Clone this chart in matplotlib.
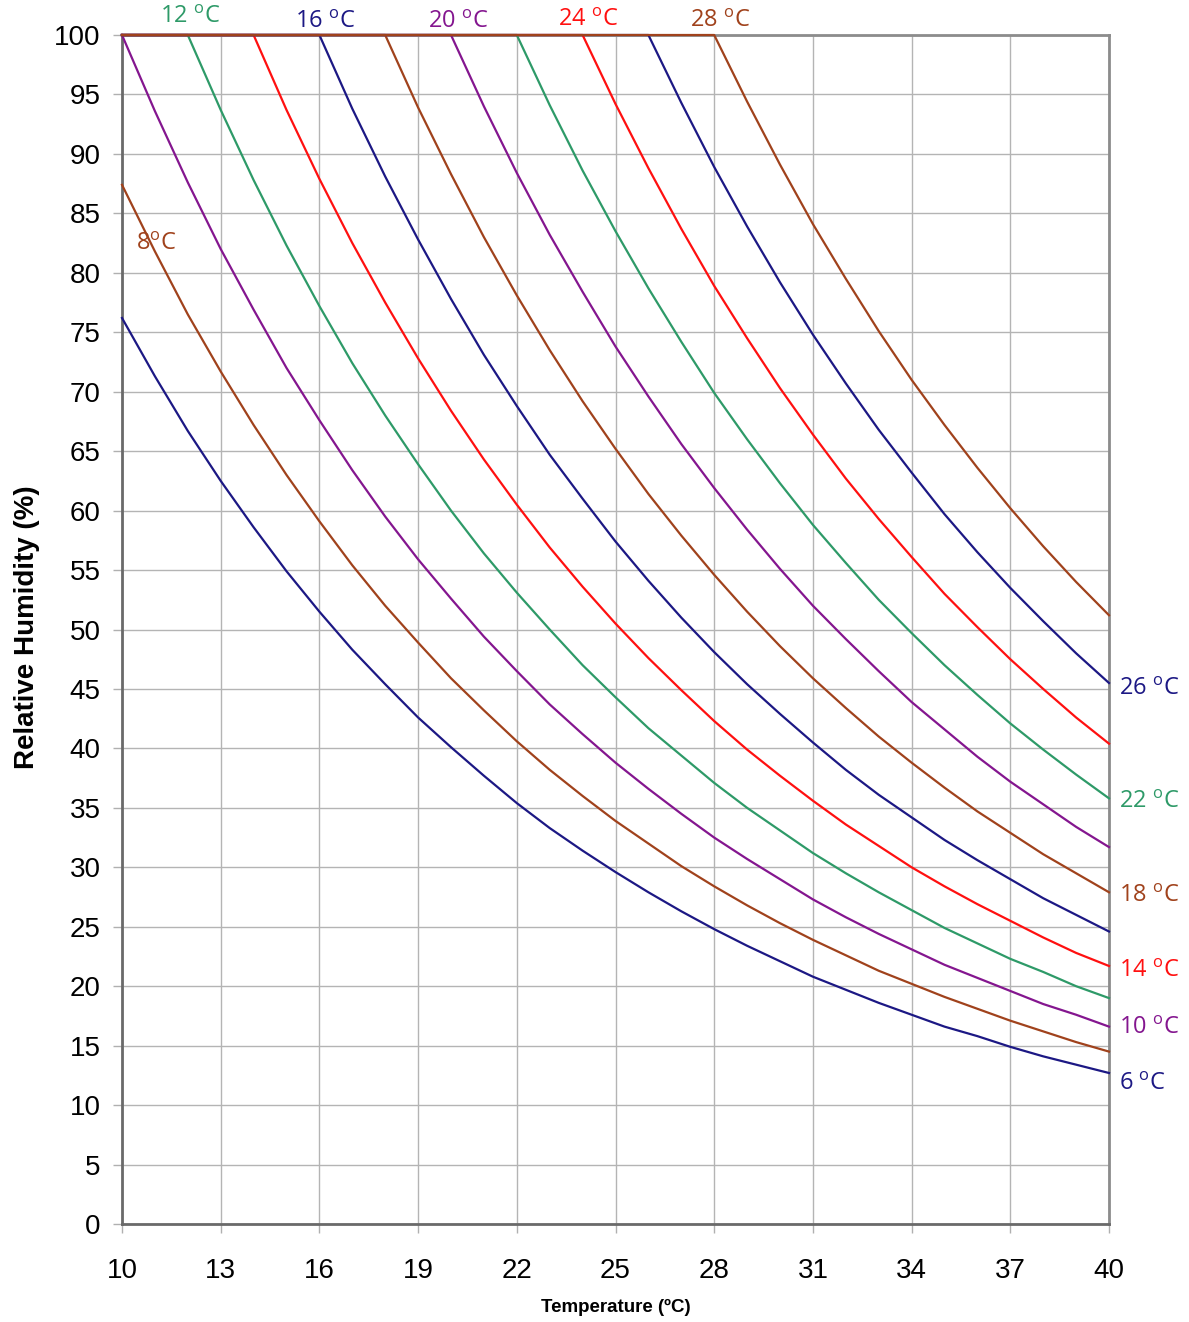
import matplotlib
matplotlib.use("Agg")
import matplotlib.pyplot as plt

# Temperature axis (deg C)
temps = [10, 11, 12, 13, 14, 15, 16, 17, 18, 19, 20, 21, 22, 23, 24, 25,
         26, 27, 28, 29, 30, 31, 32, 33, 34, 35, 36, 37, 38, 39, 40]

# Relative humidity (%) for each dew point curve, read at each temperature
rh_6 = [76.2, 71.3, 66.7, 62.5, 58.6, 54.9, 51.5, 48.3, 45.4, 42.6, 40.1, 37.7, 35.4, 33.3, 31.4, 29.6,
        27.9, 26.3, 24.8, 23.4, 22.1, 20.8, 19.7, 18.6, 17.6, 16.6, 15.8, 14.9, 14.1, 13.4, 12.7]
rh_8 = [87.4, 81.8, 76.5, 71.7, 67.2, 63.0, 59.1, 55.4, 52.0, 48.9, 45.9, 43.2, 40.6, 38.2, 36.0, 33.9,
        32.0, 30.1, 28.4, 26.8, 25.3, 23.9, 22.6, 21.3, 20.2, 19.1, 18.1, 17.1, 16.2, 15.3, 14.5]
rh_10 = [100, 93.6, 87.6, 82.0, 76.9, 72.0, 67.6, 63.4, 59.5, 55.9, 52.6, 49.4, 46.5, 43.7, 41.2, 38.8,
         36.6, 34.5, 32.5, 30.7, 29.0, 27.3, 25.8, 24.4, 23.1, 21.8, 20.7, 19.6, 18.5, 17.6, 16.6]
rh_12 = [100, 100, 100, 93.7, 87.8, 82.3, 77.2, 72.4, 68.0, 63.9, 60.0, 56.4, 53.1, 50.0, 47.0, 44.3,
         41.7, 39.4, 37.1, 35.0, 33.1, 31.2, 29.5, 27.9, 26.4, 24.9, 23.6, 22.3, 21.2, 20.0, 19.0]
rh_14 = [100, 100, 100, 100, 100, 93.7, 87.9, 82.5, 77.5, 72.8, 68.4, 64.3, 60.5, 56.9, 53.6, 50.5,
         47.6, 44.9, 42.3, 39.9, 37.7, 35.6, 33.6, 31.8, 30.0, 28.4, 26.9, 25.5, 24.1, 22.8, 21.7]
rh_16 = [100, 100, 100, 100, 100, 100, 100, 93.8, 88.1, 82.8, 77.8, 73.1, 68.8, 64.7, 61.0, 57.4,
         54.1, 51.0, 48.1, 45.4, 42.9, 40.5, 38.2, 36.1, 34.2, 32.3, 30.6, 29.0, 27.4, 26.0, 24.6]
rh_18 = [100, 100, 100, 100, 100, 100, 100, 100, 100, 93.9, 88.3, 83.0, 78.1, 73.5, 69.2, 65.2,
         61.4, 57.9, 54.6, 51.5, 48.6, 45.9, 43.4, 41.0, 38.8, 36.7, 34.7, 32.9, 31.1, 29.5, 27.9]
rh_20 = [100, 100, 100, 100, 100, 100, 100, 100, 100, 100, 100, 94.0, 88.4, 83.2, 78.4, 73.8,
         69.6, 65.6, 61.9, 58.4, 55.1, 52.0, 49.2, 46.5, 43.9, 41.6, 39.3, 37.2, 35.3, 33.4, 31.7]
rh_22 = [100, 100, 100, 100, 100, 100, 100, 100, 100, 100, 100, 100, 100, 94.1, 88.6, 83.5,
         78.7, 74.2, 69.9, 66.0, 62.3, 58.8, 55.6, 52.5, 49.7, 47.0, 44.5, 42.1, 39.9, 37.8, 35.8]
rh_24 = [100, 100, 100, 100, 100, 100, 100, 100, 100, 100, 100, 100, 100, 100, 100, 94.2,
         88.8, 83.7, 78.9, 74.5, 70.3, 66.4, 62.7, 59.3, 56.1, 53.0, 50.2, 47.5, 45.0, 42.6, 40.4]
rh_26 = [100, 100, 100, 100, 100, 100, 100, 100, 100, 100, 100, 100, 100, 100, 100, 100,
         100, 94.3, 88.9, 83.9, 79.2, 74.8, 70.7, 66.8, 63.2, 59.7, 56.5, 53.5, 50.7, 48.0, 45.5]
rh_28 = [100, 100, 100, 100, 100, 100, 100, 100, 100, 100, 100, 100, 100, 100, 100, 100,
         100, 100, 100, 94.4, 89.1, 84.1, 79.5, 75.1, 71.0, 67.2, 63.6, 60.2, 57.0, 54.0, 51.2]

dew_points = [6, 8, 10, 12, 14, 16, 18, 20, 22, 24, 26, 28]
series = [rh_6, rh_8, rh_10, rh_12, rh_14, rh_16, rh_18, rh_20, rh_22, rh_24, rh_26, rh_28]

x_ticks = [10, 13, 16, 19, 22, 25, 28, 31, 34, 37, 40]
y_ticks = [0, 5, 10, 15, 20, 25, 30, 35, 40, 45, 50, 55, 60, 65, 70, 75, 80, 85, 90, 95, 100]

NAVY = '#1c1884'
BROWN = '#a0421c'
PURPLE = '#84168f'
GREEN = '#2e9a68'
RED = '#ff1010'
palette = [NAVY, BROWN, PURPLE, GREEN, RED]

plt.rcParams['mathtext.fontset'] = 'custom'
plt.rcParams['mathtext.rm'] = 'Open Sans'

fig = plt.figure(figsize=(11.89, 13.22), dpi=100)
ax = fig.add_axes([122 / 1189, 1 - 1224 / 1322, 987 / 1189, 1189 / 1322])

ax.set_xlim(10, 40)
ax.set_ylim(0, 100)
ax.set_xticks(x_ticks)
ax.set_yticks(y_ticks)
ax.grid(True, color='#b4b4b4', linewidth=1.0)
ax.set_axisbelow(True)

for i, (td, vals) in enumerate(zip(dew_points, series)):
    ax.plot(temps, vals, color=palette[i % 5], linewidth=1.6, clip_on=False,
            solid_joinstyle='round', zorder=3 + i * 0.01)

tick_font = dict(family=['Liberation Sans', 'DejaVu Sans'], size=20)
ax.set_xticklabels([str(t) for t in x_ticks], **tick_font)
ax.set_yticklabels([str(t) for t in y_ticks], **tick_font)
ax.tick_params(axis='both', direction='out', length=6.5, width=1.0, color='#b0b0b0')
ax.tick_params(axis='y', pad=9)
ax.tick_params(axis='x', pad=18)

for side in ['left', 'bottom']:
    ax.spines[side].set_color('#6a6a6a')
    ax.spines[side].set_linewidth(2.0)
for side in ['top', 'right']:
    ax.spines[side].set_color('#8c8c8c')
    ax.spines[side].set_linewidth(2.0)

fig.text(27 / 1189, 1 - 627 / 1322, 'Relative Humidity (%)', rotation=90,
         ha='center', va='center', fontsize=20, fontweight='bold',
         family=['Liberation Sans', 'DejaVu Sans'])
fig.text(616 / 1189, 1 - 1307 / 1322, 'Temperature (ºC)', ha='center', va='center',
         fontsize=13.5, fontweight='bold', family=['Liberation Sans', 'DejaVu Sans'])

label_font = dict(family=['Open Sans', 'DejaVu Sans'], fontsize=17)

def deg_label(td):
    return str(td) + r' $^{\mathregular{o}}$C'

# top labels (centered)
top_labels = [(12, 12.07, 101.5), (16, 16.17, 101.1), (20, 20.21, 101.1),
              (24, 24.16, 101.3), (28, 28.18, 101.2)]
for td, lx, ly in top_labels:
    c = palette[dew_points.index(td) % 5]
    ax.text(lx, ly, deg_label(td), color=c, ha='center', va='center', clip_on=False, **label_font)

ax.text(11.05, 82.4, '8' + r'$^{\mathregular{o}}$C', color=BROWN, ha='center', va='center', **label_font)

right_labels = [(26, 45.0), (22, 35.5), (18, 27.6), (14, 21.3), (10, 16.5), (6, 11.8)]
for td, ly in right_labels:
    c = palette[dew_points.index(td) % 5]
    ax.text(40.3, ly, deg_label(td), color=c, ha='left', va='center', clip_on=False, **label_font)

fig.savefig('out.png', dpi=100)
